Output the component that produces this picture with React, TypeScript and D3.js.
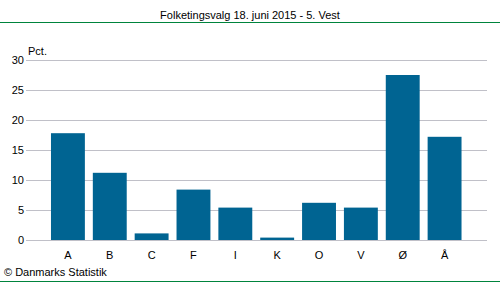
import React from "react";
import * as d3 from "d3";

const categories = ["A", "B", "C", "F", "I", "K", "O", "V", "Ø", "Å"];
const values = [17.8, 11.2, 1.1, 8.4, 5.4, 0.4, 6.2, 5.4, 27.5, 17.2];
const yTicks = [0, 5, 10, 15, 20, 25, 30];
const title = "Folketingsvalg 18. juni 2015 - 5. Vest";
const unitLabel = "Pct.";
const credit = "© Danmarks Statistik";

export default function App() {
  const W = 500, H = 282;
  const y = d3.scaleLinear().domain([0, 30]).range([240, 60]);
  const x = d3.scaleBand<string>().domain(categories).range([47, 465.5]).paddingInner(0.19).paddingOuter(0.095);
  const font = "'Liberation Sans', Arial, sans-serif";
  const fs = 11;
  return (
    <svg width={W} height={H} style={{ position: "absolute", left: 0, top: 0 }} fontFamily={font}>
      <rect width={W} height={H} fill="#fff" />
      <text x={250} y={19} textAnchor="middle" fontSize={fs} fill="#000">{title}</text>
      <line x1={0} x2={W} y1={22.5} y2={22.5} stroke="#00843d" strokeWidth={1} />
      <line x1={0} x2={W} y1={281.5} y2={281.5} stroke="#00843d" strokeWidth={1} />
      {yTicks.map(t => (
        <g key={t}>
          <line x1={26} x2={487} y1={Math.round(y(t)) + 0.5} y2={Math.round(y(t)) + 0.5} stroke="#c0c0c8" strokeWidth={1} />
          <text x={24} y={y(t) + 4} textAnchor="end" fontSize={fs} fill="#000">{t}</text>
        </g>
      ))}
      <text x={28} y={55} fontSize={fs} fill="#000">{unitLabel}</text>
      {categories.map((c, i) => (
        <rect key={c} x={x(c)} y={y(values[i])} width={x.bandwidth()} height={y(0) - y(values[i])} fill="#006492" />
      ))}
      {categories.map(c => (
        <text key={c} x={(x(c) ?? 0) + x.bandwidth() / 2} y={259} textAnchor="middle" fontSize={fs} fill="#000">{c}</text>
      ))}
      <text x={4} y={276} fontSize={fs} fill="#000">{credit}</text>
    </svg>
  );
}
